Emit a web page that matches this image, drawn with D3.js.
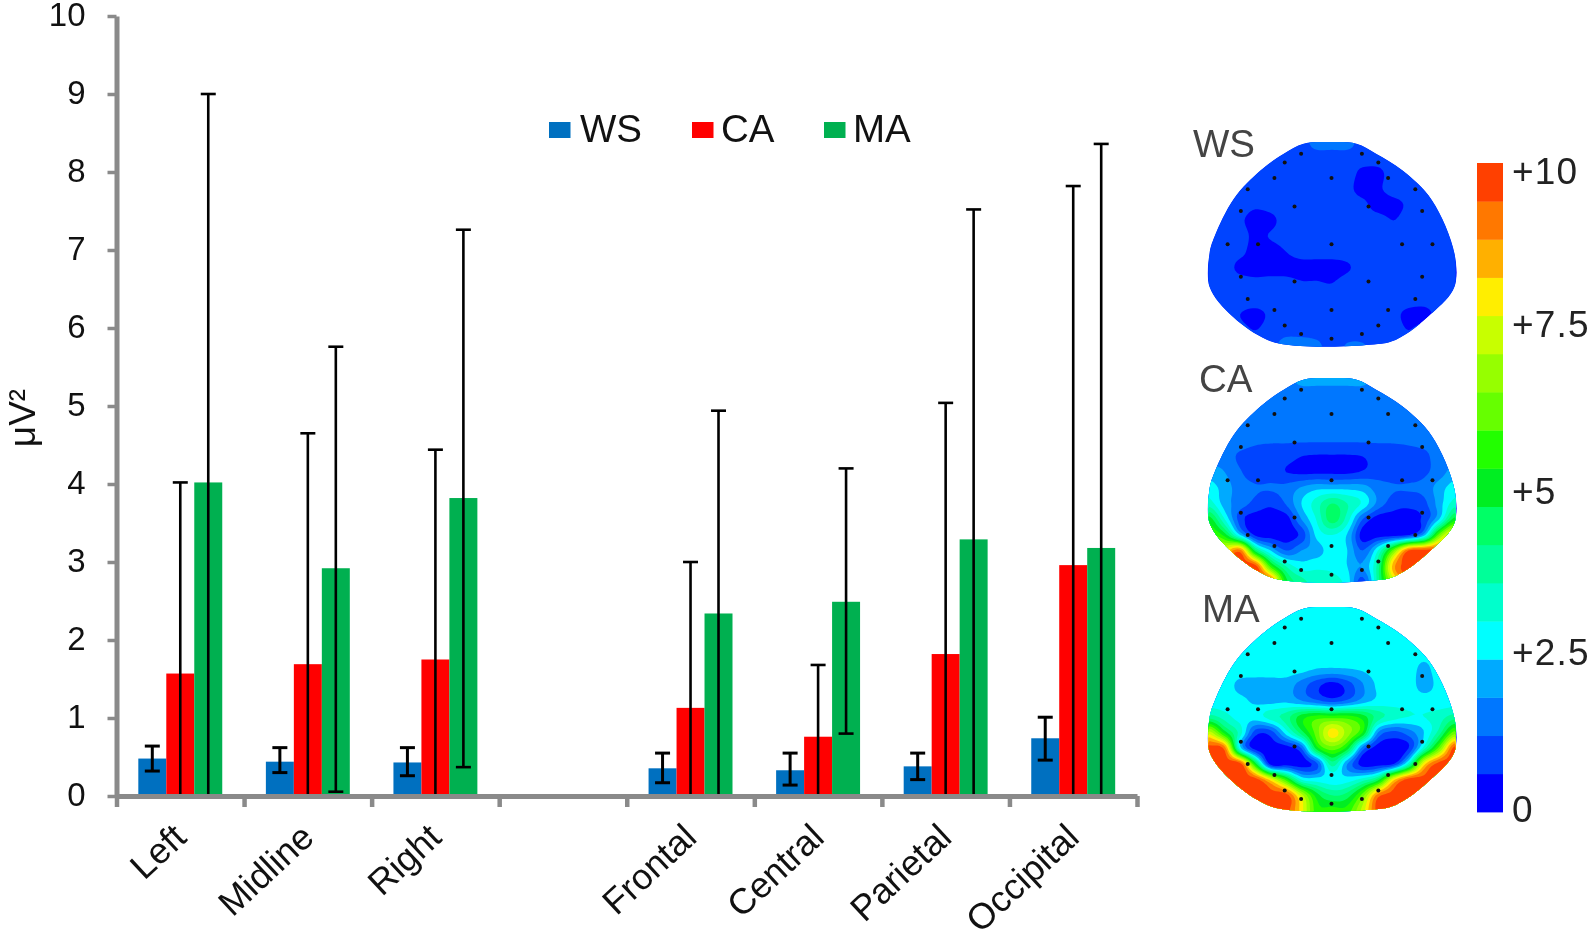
<!DOCTYPE html>
<html><head><meta charset="utf-8">
<script src="https://cdn.jsdelivr.net/npm/d3@7"></script>
<style>
html,body{margin:0;padding:0;background:#fff}
svg{display:block;filter:blur(0.7px)}
text{font-family:"Liberation Sans",Arial,sans-serif;fill:#111}
</style></head><body>
<svg id="chart" width="1594" height="936"></svg>
<script>
// ---------- bar chart data ----------
const categories = ["Left","Midline","Right","","Frontal","Central","Parietal","Occipital"];
const seriesNames = ["WS","CA","MA"];
const seriesColors = ["#0070c0","#ff0000","#00b050"];
const wsValues = [0.48,0.44,0.43,null,0.355,0.33,0.38,0.74];
const caValues = [1.57,1.69,1.75,null,1.13,0.76,1.82,2.96];
const maValues = [4.02,2.92,3.82,null,2.34,2.49,3.29,3.18];
const wsErrHigh = [0.64,0.62,0.62,null,0.55,0.55,0.55,1.01];
const wsErrLow  = [0.32,0.30,0.26,null,0.17,0.14,0.21,0.46];
const caErrHigh = [4.02,4.65,4.44,null,3.00,1.68,5.04,7.82];
const caErrLow  = [0,0,0,null,0,0,0,0];
const maErrHigh = [9.00,5.76,7.26,null,4.94,4.20,7.52,8.36];
const maErrLow  = [0,0.055,0.37,null,0,0.80,0,0];
const yTicks = [0,1,2,3,4,5,6,7,8,9,10];
const yTitle = "\u03bcV\u00b2";

// ---------- scalp map data: colour level (0..16) on a 17 x 14 sample grid ----------
const levelColors = ["#0000ff","#0044ff","#0077ff","#00aaff","#00ffff","#00ffcc","#00ff99","#00ff66","#00ee22","#22ff00","#66ff00","#96ff00","#c8ff00","#ffee00","#ffb000","#ff7800","#ff4000"];
const colorbarLabels = ["+10","+7.5","+5","+2.5","0"];
const colorbarLabelLevels = [16.8,12.77,8.4,4.2,0.08];
const wsGrid = [
[1,1,1,1,1,1,1,2,2,2,1,1,1,1,1,1,1],
[1,1,1,1,1,1,1,1,1,1,1,1,1,1,1,1,1],
[1,1,1,1,1,1,1,1,1,1,.2,.2,1,1,1,1,1],
[1,1,1,1,1,1,1,1,1,.8,.1,.3,1,1,1,1,1],
[1,1,1,.7,.9,1,1,1,1,1,.8,0,.1,.7,1,1,1],
[1,1,.7,0,.2,1,1,1,1,1,1,1,.5,1,1,1,1],
[1,1,1,.2,.6,1,1,1,1,1,1,1,1,1,1,1,1],
[1,1,.8,0,0,.5,1,1,1,1,1,1,1,1,1,1,1],
[1,1,.2,0,0,0,0,0,0,.35,1,1,1,1,1,1,1],
[1,1,1,.8,.9,.9,.6,.6,.5,1,1,1,1,1,1,1,1],
[1,1,1,1,1,1,1,1,1,1,1,1,1,1,1,1,1],
[1,1,.5,.2,.7,1,1,1,1,1,1,1,.8,.2,.1,.9,1],
[1,1,.8,.5,.9,1,1,1,1,1,1,1,1,.5,1,1,1],
[1,1,1,1,1,2.2,2.2,1.8,1,1.6,1.6,1,1,1,1,1,1]];
const caGrid = [
[2,2,2,2,2,2,3,3,3,3,3,2,2,2,2,2,2],
[2,2,2,2,2,2,2,2,2,2,2,2,2,2,2,2,2],
[2,2,2,2,2,2,2,2,2,2,2,2,2,2,2,2,2],
[2,2,2,2,2,2,2,2,2,2,2,2,2,2,2,2,2],
[2,2,2,1.7,1.6,1.6,1.6,1.6,1.6,1.6,1.6,1.6,1.6,1.7,1.9,2,2],
[2,2,1.3,1,1,.9,.5,.4,.4,.4,.5,.9,1,1,1.2,2,2],
[3,2.5,1.6,1,1,.5,.3,.3,.3,.3,.6,1,1,1,1.3,2,3],
[4,3,2,1.6,1.6,1.8,2.6,3.2,3.2,3.2,3,2,1.6,1.6,1.8,3,4],
[5,3,2,1.2,.7,1.6,3.5,5,6.5,5.5,4.3,2.2,1,.8,1.2,3,5],
[8,4.5,1,0,0,0,2.5,4.6,7,5,1.5,0,0,0,.8,3.5,8],
[10,8,3.5,.3,0,0,.8,3.8,4.5,3.4,0,0,0,.4,3,10,14],
[14,13,15,7,3.5,1.5,2.5,3,4,3.5,1.5,4.5,10,15.5,16,16,16],
[16,16,16,16,9,5.5,4,4.3,4.2,3.5,2.6,6,14,16,16,16,16],
[16,16,16,16,16,8,6,5,5,4,1,6,12,16,16,16,16]];
const maGrid = [
[4,4,4,4,4,4,4,4,4,4,4,4,4,4,4,4,4],
[4,4,4,4,4,4,4,4,4,4,4,4,4,4,4,4,4],
[4,4,4,4,4,4,4,4,4,4,4,4,4,4,4,4,4],
[4,4,4,4,4,4,4,4,4,4,4,4,4,4,3.8,4,4],
[4,4,4,4,4,4,3.8,3.4,3.3,3.4,3.6,4,4,4,3.2,4,4],
[4,4,3.2,3,3,3,2,.8,0,.9,2.4,3.7,4,4,3.1,3.8,4],
[4,4,3.8,3.3,3.2,3.3,2.6,1.8,1.2,1.8,3,3.8,4,4,4,4,4],
[6,5,4,4,5,6,8,9,9,9,8,6,5,4.5,4.5,5,6],
[12,8,5,1,1,4,7,10,13,11,8.5,2.5,1.2,2,3.5,6,10],
[16,15,4,0,0,0,1.5,8,10,8,2,0,0,.5,5,10,16],
[16,16,16,8,0,0,0,1.2,6,2.5,0,0,.4,5,13,16,16],
[16,16,16,16,13,9,4.5,4,4,4,5,7,13,16,16,16,16],
[16,16,16,16,16,16,12,8,6.5,7,10,15,16,16,16,16,16],
[16,16,16,16,16,16,13,9,9,9,12,16,16,16,16,16,16]];
const electrodeX = [37.4,62.2,30.7,68.9,26.5,49.8,72.9,15.6,84,34.7,64.9,12.8,86.8,7.4,19.8,49.8,78.6,91,12.8,34.7,64.9,86.8,15.6,84,26.5,49.8,72.9,30.7,68.9,37.4,62.2,49.8];
const electrodeY = [5.7,5.7,10.1,10.1,17.6,17.6,17.6,23.2,23.2,31.6,31.6,33.8,33.8,50.1,50.1,50.1,50.1,50.1,66,68.4,68.4,66,77,77,82.4,82.4,82.4,90,90,94.1,94.1,96.4];
const headX = [0,0,9.4,23.6,37,64,76,90.8,100,100,90.8,78.7,68,60,49.1,38.4,30.3,20.9,10,2];
const headY = [54.6,71,85.6,97,100,99.5,97,84,71,54.6,28.5,13.9,5.7,.8,0,.8,5.7,13.9,27.7,46.5];
const mapNames = ["WS","CA","MA"];
const mapGrids = [wsGrid,caGrid,maGrid];

const svg = d3.select("#chart");

// ---------- scales ----------
const plotLeft = 116.5, plotRight = 1137, y0 = 796, y10 = 16;
const x = d3.scaleBand().domain(d3.range(categories.length)).range([plotLeft,plotRight]).paddingInner(0.342).paddingOuter(0.171);
const xEdge = d3.scaleLinear().domain([0,categories.length]).range([plotLeft,plotRight]);
const xInner = d3.scaleBand().domain(seriesNames).range([0,x.bandwidth()]);
const y = d3.scaleLinear().domain([0,10]).range([y0,y10]);

// ---------- bars ----------
const valueSets = [wsValues,caValues,maValues];
const highSets = [wsErrHigh,caErrHigh,maErrHigh];
const lowSets = [wsErrLow,caErrLow,maErrLow];
const bars = svg.append("g");
const errs = svg.append("g").attr("stroke","#000").attr("fill","none");
seriesNames.forEach((s,si)=>{
  categories.forEach((c,ci)=>{
    const v = valueSets[si][ci];
    if(v===null) return;
    bars.append("rect")
      .attr("x",x(ci)+xInner(s)).attr("width",xInner.bandwidth())
      .attr("y",y(v)).attr("height",y(0)-y(v)).attr("fill",seriesColors[si]);
    const cx = x(ci)+xInner(s)+xInner.bandwidth()/2;
    const hi = highSets[si][ci], lo = lowSets[si][ci];
    const w = si===0 ? 3 : 2.6;
    const g = errs.append("g").attr("stroke-width",w);
    g.append("line").attr("x1",cx).attr("x2",cx).attr("y1",y(hi)).attr("y2",y(lo));
    g.append("line").attr("x1",cx-7.5).attr("x2",cx+7.5).attr("y1",y(hi)).attr("y2",y(hi));
    if(lo>0) g.append("line").attr("x1",cx-7.5).attr("x2",cx+7.5).attr("y1",y(lo)).attr("y2",y(lo));
  });
});

// ---------- axes ----------
const axisGray = "#8a8a8a";
const yAxis = svg.append("g").attr("transform",`translate(${plotLeft},0)`)
  .call(d3.axisLeft(y).tickValues(yTicks).tickSize(9).tickPadding(22).tickSizeOuter(0));
yAxis.select(".domain").attr("stroke",axisGray).attr("stroke-width",5);
yAxis.selectAll(".tick line").attr("stroke",axisGray).attr("stroke-width",3.5);
yAxis.selectAll(".tick text").attr("font-size",33).attr("font-family",null).attr("dy","0.3em").style("fill","#111");

const xAxis = svg.append("g").attr("transform",`translate(0,${y0})`)
  .call(d3.axisBottom(xEdge).tickValues(d3.range(categories.length+1)).tickSize(11).tickSizeOuter(0).tickFormat(""));
xAxis.select(".domain").attr("stroke",axisGray).attr("stroke-width",5);
xAxis.selectAll(".tick line").attr("stroke",axisGray).attr("stroke-width",4.5);

svg.append("g").selectAll("text").data(categories.map((c,i)=>({c,i})).filter(d=>d.c)).join("text")
  .attr("text-anchor","end").attr("font-size",36)
  .attr("transform",d=>`translate(${x(d.i)+x.bandwidth()/2+8},${840}) rotate(-43)`)
  .text(d=>d.c);

svg.append("text").attr("font-size",37).attr("text-anchor","middle")
  .attr("transform","translate(35,418) rotate(-90)").text(yTitle);

// ---------- legend ----------
const legendSquareX = [549,692,824];
const legendTextX = [580,721,853];
seriesNames.forEach((s,i)=>{
  svg.append("rect").attr("x",legendSquareX[i]).attr("y",122).attr("width",21.5).attr("height",16).attr("fill",seriesColors[i]);
  svg.append("text").attr("x",legendTextX[i]).attr("y",142).attr("font-size",38.5).text(s);
});

// ---------- scalp maps ----------
function upsample(grid,f){
  const rows=grid.length, cols=grid[0].length, W=(cols-1)*f+1, H=(rows-1)*f+1, out=new Float64Array(W*H);
  const at=(r,c)=>grid[Math.max(0,Math.min(rows-1,r))][Math.max(0,Math.min(cols-1,c))];
  const cr=(a,b,c,d,t)=>0.5*((2*b)+(-a+c)*t+(2*a-5*b+4*c-d)*t*t+(-a+3*b-3*c+d)*t*t*t);
  for(let j=0;j<H;j++)for(let i=0;i<W;i++){
    const gx=i/f, gy=j/f, c0=Math.floor(gx), r0=Math.floor(gy), tx=gx-c0, ty=gy-r0, v=[];
    for(let k=-1;k<=2;k++) v.push(cr(at(r0+k,c0-1),at(r0+k,c0),at(r0+k,c0+1),at(r0+k,c0+2),tx));
    out[j*W+i]=cr(v[0],v[1],v[2],v[3],ty);
  }
  return {data:out,W,H};
}
const mapLeft=1209.5, mapWidth=245, mapHeight=204;
const mapTops=[142,378,607];
const mapLabelPos=[[1193,157],[1199,392],[1202,622]];
const upF=6;
mapNames.forEach((name,mi)=>{
  const top=mapTops[mi];
  const hx=d3.scaleLinear().domain([0,100]).range([mapLeft,mapLeft+mapWidth]);
  const hy=d3.scaleLinear().domain([0,100]).range([top,top+mapHeight]);
  const outline=d3.line().curve(d3.curveCatmullRomClosed.alpha(0.5)).x((d,i)=>hx(headX[i])).y((d,i)=>hy(headY[i]))(headX);
  const clipId="clip"+name;
  svg.append("clipPath").attr("id",clipId).append("path").attr("d",outline);
  const g=svg.append("g").attr("clip-path",`url(#${clipId})`);
  g.append("path").attr("d",outline).attr("fill",levelColors[0]);
  const u=upsample(mapGrids[mi],upF);
  const px=d3.scaleLinear().domain([0.5,u.W-0.5]).range([hx(0),hx(100)]);
  const py=d3.scaleLinear().domain([0.5,u.H-0.5]).range([hy(0),hy(100)]);
  const path=d3.geoPath(d3.geoTransform({point(a,b){this.stream.point(px(a),py(b));}}));
  const th=d3.range(1,levelColors.length).map(k=>k-0.5);
  const cs=d3.contours().size([u.W,u.H]).thresholds(th)(Array.from(u.data));
  g.selectAll("path.c").data(cs).join("path").attr("class","c")
    .attr("d",path).attr("fill",(d,i)=>levelColors[i+1]);
  svg.append("g").selectAll("circle").data(electrodeX).join("circle")
    .attr("cx",d=>hx(d)).attr("cy",(d,i)=>hy(electrodeY[i])).attr("r",2).attr("fill","#111");
  svg.append("text").attr("x",mapLabelPos[mi][0]).attr("y",mapLabelPos[mi][1])
    .attr("font-size",38.5).style("fill","#444").text(name);
});

// ---------- colour bar ----------
const cbX=1477, cbW=26, cbTop=163, cbBottom=812;
const cb=d3.scaleLinear().domain([0,levelColors.length]).range([cbBottom,cbTop]);
svg.append("g").selectAll("rect").data(levelColors).join("rect")
  .attr("x",cbX).attr("width",cbW).attr("y",(d,i)=>cb(i+1)).attr("height",(d,i)=>cb(i)-cb(i+1)+0.4).attr("fill",d=>d);
svg.append("g").selectAll("text").data(colorbarLabels).join("text")
  .attr("x",1512).attr("font-size",37).attr("letter-spacing",1.2).style("fill","#222")
  .attr("y",(d,i)=>cb(colorbarLabelLevels[i])).attr("dy","0.35em").text(d=>d);
</script>
</body></html>
